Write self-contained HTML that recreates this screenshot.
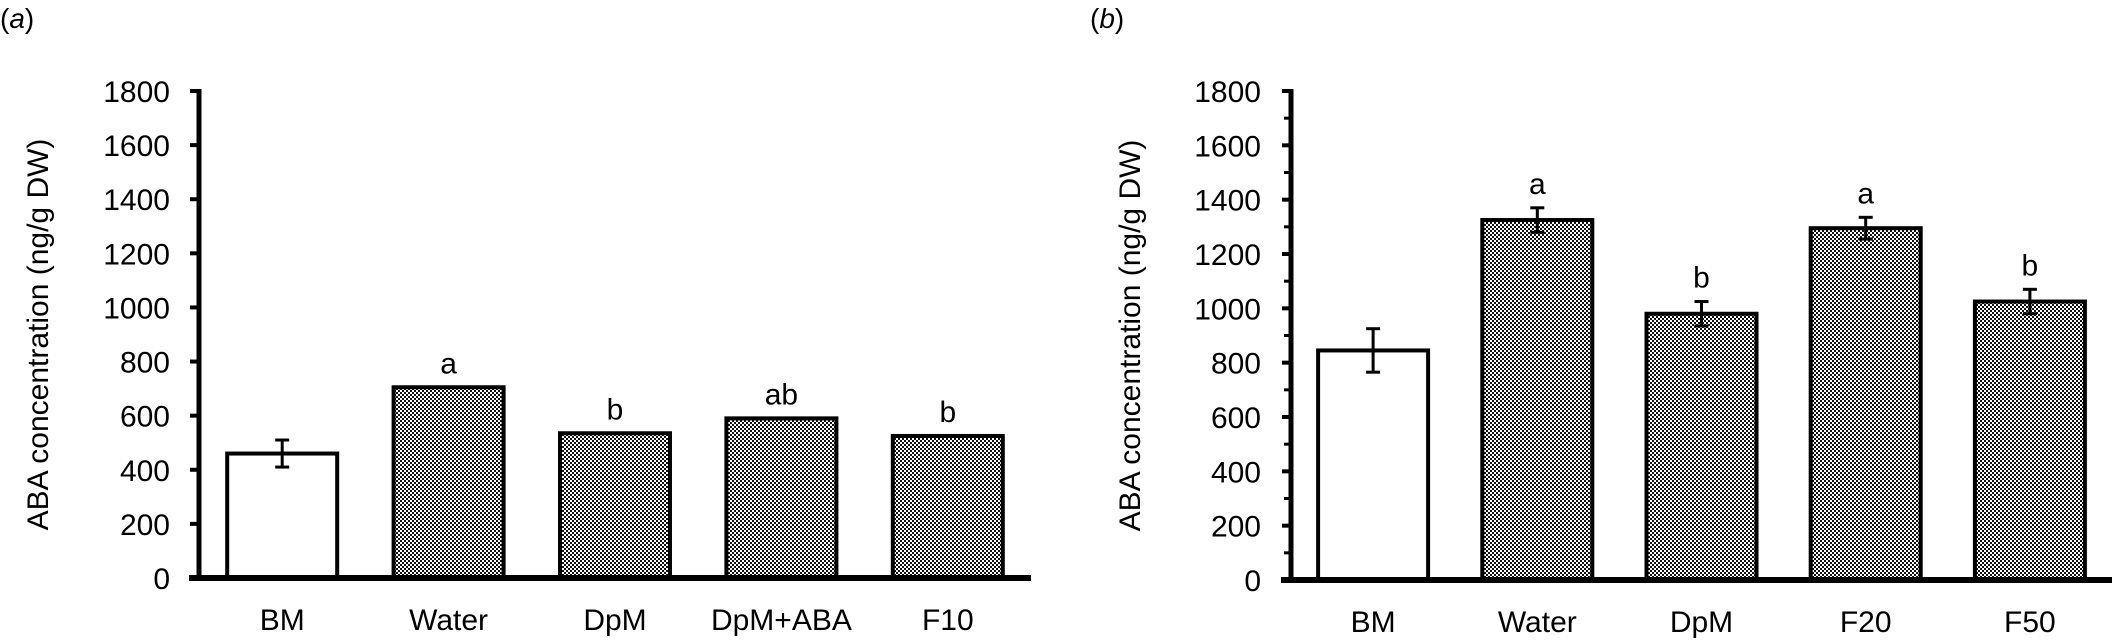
<!DOCTYPE html>
<html><head><meta charset="utf-8"><style>
html,body{margin:0;padding:0;background:#fff}
svg{display:block}
text{font-family:"Liberation Sans",Arial,sans-serif;fill:#000}
</style></head><body>
<svg id="chart" width="2114" height="642" viewBox="0 0 2114 642">
<defs>
<pattern id="dots" width="4" height="4" patternUnits="userSpaceOnUse">
<rect width="4" height="4" fill="#fff"/>
<rect x="0" y="0" width="2" height="2" fill="#111"/>
<rect x="2" y="2" width="2" height="2" fill="#111"/>
</pattern>
</defs>
</svg>
<script>
const catsA = ["BM","Water","DpM","DpM+ABA","F10"];
const valsA = [460, 705, 535, 590, 525];
const errA = [50, 0, 0, 0, 0];
const lettersA = ["", "a", "b", "ab", "b"];
const catsB = ["BM","Water","DpM","F20","F50"];
const valsB = [845, 1325, 980, 1295, 1025];
const errB = [80, 45, 45, 40, 45];
const lettersB = ["", "a", "b", "a", "b"];
const yTicks = [0,200,400,600,800,1000,1200,1400,1600,1800];

const NS = "http://www.w3.org/2000/svg";
const svg = document.getElementById("chart");
function mk(tag, attrs, parent, txt){
  const e = document.createElementNS(NS, tag);
  for (const k in attrs) e.setAttribute(k, attrs[k]);
  if (txt !== undefined) e.textContent = txt;
  (parent || svg).appendChild(e);
  return e;
}
function panel(id, cfg, cats, vals, errs, letters){
  const g = mk("g", {});
  
  
  const x0 = cfg.axisX, x1 = cfg.axisEnd, yBase = cfg.base, yTop = cfg.top;
  const y = v => yBase - (v / 1800) * (yBase - yTop);
  const step = (x1 - x0) / cats.length;
  const bw = 110;
  // panel label
  const pl = mk("text", {x: cfg.labelX, y: 28, "font-size": 28}, g);
  pl.innerHTML = '(<tspan font-style="italic">' + id + '</tspan>)';
  
  
  // y-axis title
  const yt = mk("text", {x: 0, y: 0, "font-size": 30, "text-anchor": "middle",
    transform: "translate(" + cfg.titleX + "," + ((yTop + yBase) / 2) + ") rotate(-90)"}, g, "ABA concentration (ng/g DW)");
  
  
  // bars
  cats.forEach((c, i) => {
    const cx = x0 + step * (i + 0.5);
    const r = mk("rect", {x: cx - bw / 2, y: y(vals[i]), width: bw, height: yBase - y(vals[i]),
      fill: i === 0 ? "#fff" : "url(#dots)", stroke: "#000", "stroke-width": 4}, g);
    
    
    let top = y(vals[i]);
    if (errs[i] > 0) {
      const e = mk("g", {stroke: "#000", "stroke-width": 3}, g);
      
      
      const ya = y(vals[i] + errs[i]), yb = y(vals[i] - errs[i]);
      mk("line", {x1: cx, x2: cx, y1: ya, y2: yb}, e);
      mk("line", {x1: cx - 7, x2: cx + 7, y1: ya, y2: ya}, e);
      mk("line", {x1: cx - 7, x2: cx + 7, y1: yb, y2: yb}, e);
      top = ya;
    }
    if (letters[i]) {
      const l = mk("text", {x: cx, y: top - 14, "font-size": 30, "text-anchor": "middle"}, g, letters[i]);
      
      
    }
    const t = mk("text", {x: cx, y: yBase + 52, "font-size": 30, "text-anchor": "middle"}, g, c);
    
    
  });
  // axes
  const ax = mk("g", {stroke: "#000"}, g);
  
  
  mk("line", {x1: x0, x2: x0, y1: yTop - 2, y2: yBase + 2, "stroke-width": 5}, ax);
  mk("line", {x1: x0 - 10, x2: x1, y1: yBase, y2: yBase, "stroke-width": 6}, ax);
  yTicks.forEach((v, i) => {
    mk("line", {x1: x0 - 9, x2: x0, y1: y(v), y2: y(v), "stroke-width": 4}, ax);
    if (cfg.minor && i < yTicks.length - 1)
      mk("line", {x1: x0 - 7, x2: x0, y1: y(v + 100), y2: y(v + 100), "stroke-width": 3}, ax);
    const t = mk("text", {x: cfg.labelRight, y: y(v) + 11, "font-size": 30, "text-anchor": "end"}, g, String(v));
    
    
  });
}
panel("a", {axisX: 199, axisEnd: 1031, base: 578, top: 91, labelRight: 170, titleX: 48, labelX: 0, minor: false},
  catsA, valsA, errA, lettersA);
panel("b", {axisX: 1291, axisEnd: 2112, base: 580, top: 91, labelRight: 1261, titleX: 1140, labelX: 1090, minor: true},
  catsB, valsB, errB, lettersB);
</script>
</body></html>
